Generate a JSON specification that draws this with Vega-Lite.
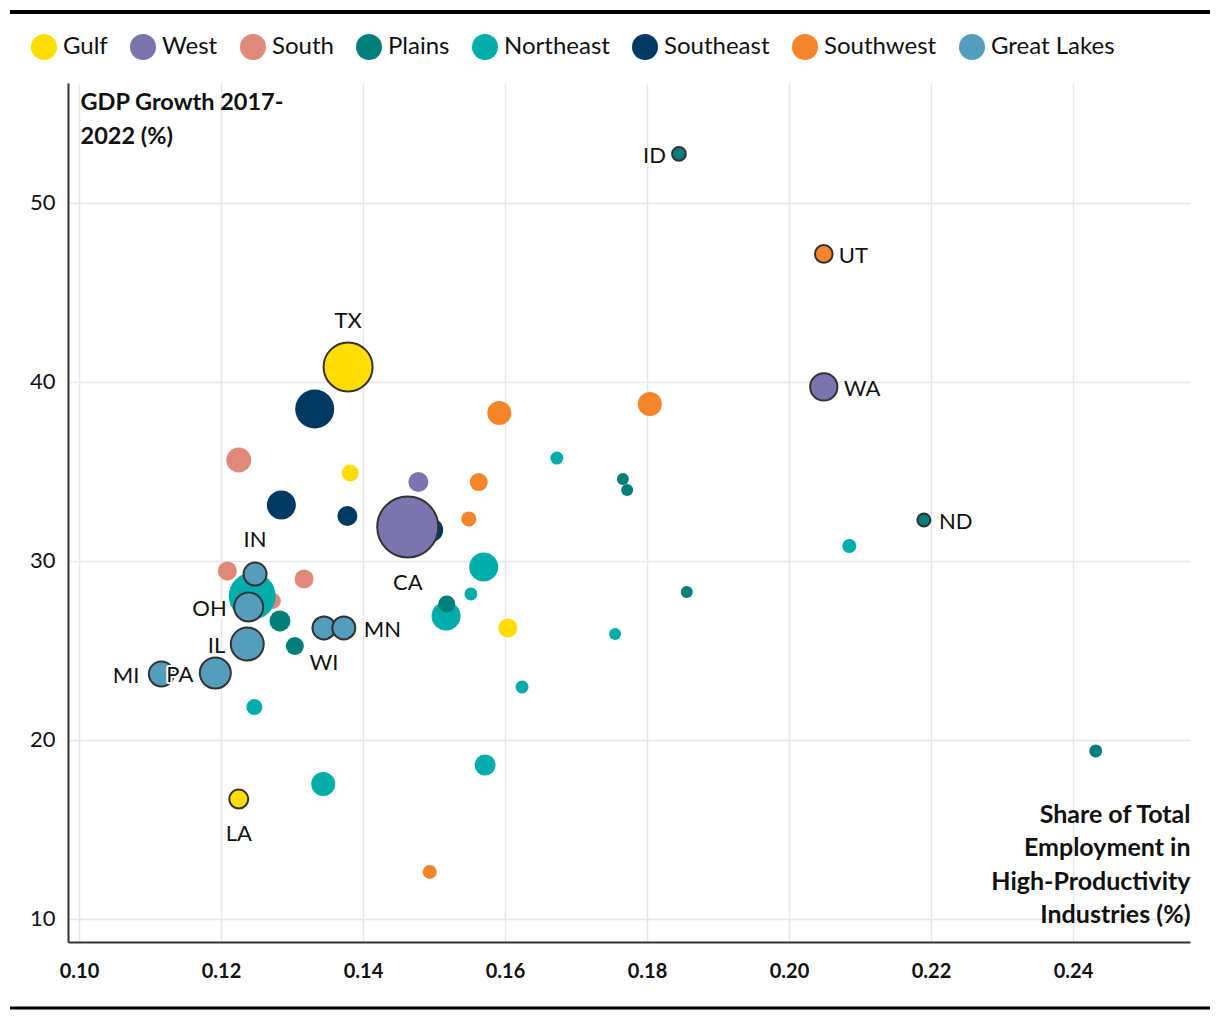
{
  "$schema": "https://vega.github.io/schema/vega-lite/v6.json",
  "width": 1122,
  "height": 859,
  "autosize": {"type": "none"},
  "padding": {"left": 68, "top": 83, "right": 30, "bottom": 78},
  "background": "white",
  "config": {
    "font": "Lato",
    "view": {"stroke": null},
    "text": {"font": "Lato", "fontSize": 22, "baseline": "middle", "color": "#111111"}
  },
  "datasets": {
    "frame": [{"edge": "top"}, {"edge": "bottom"}]
  },
  "data": {
    "values": [
      {"state": "TN", "region": "South", "share": 0.1225, "growth": 35.64, "gdp": 522, "hl": false},
      {"state": "KY", "region": "South", "share": 0.1209, "growth": 29.44, "gdp": 260, "hl": false},
      {"state": "MS", "region": "South", "share": 0.1317, "growth": 28.99, "gdp": 260, "hl": false},
      {"state": "AR", "region": "South", "share": 0.1273, "growth": 27.77, "gdp": 156, "hl": false},
      {"state": "NY", "region": "Northeast", "share": 0.1244, "growth": 28.04, "gdp": 2098, "hl": false},
      {"state": "MA", "region": "Northeast", "share": 0.1570, "growth": 29.66, "gdp": 737, "hl": false},
      {"state": "NJ", "region": "Northeast", "share": 0.1517, "growth": 26.93, "gdp": 737, "hl": false},
      {"state": "NH", "region": "Northeast", "share": 0.1552, "growth": 28.16, "gdp": 69, "hl": false},
      {"state": "VT", "region": "Northeast", "share": 0.1673, "growth": 35.75, "gdp": 69, "hl": false},
      {"state": "DE", "region": "Northeast", "share": 0.2085, "growth": 30.84, "gdp": 96, "hl": false},
      {"state": "RI", "region": "Northeast", "share": 0.1755, "growth": 25.92, "gdp": 44, "hl": false},
      {"state": "ME", "region": "Northeast", "share": 0.1624, "growth": 22.96, "gdp": 69, "hl": false},
      {"state": "WV", "region": "Northeast", "share": 0.1247, "growth": 21.84, "gdp": 156, "hl": false},
      {"state": "CT", "region": "Northeast", "share": 0.1572, "growth": 18.60, "gdp": 340, "hl": false},
      {"state": "MD", "region": "Northeast", "share": 0.1344, "growth": 17.54, "gdp": 474, "hl": false},
      {"state": "SD", "region": "Plains", "share": 0.1766, "growth": 34.58, "gdp": 44, "hl": false},
      {"state": "MT", "region": "Plains", "share": 0.1772, "growth": 33.97, "gdp": 44, "hl": false},
      {"state": "WY", "region": "Plains", "share": 0.1856, "growth": 28.27, "gdp": 44, "hl": false},
      {"state": "KS", "region": "Plains", "share": 0.1518, "growth": 27.60, "gdp": 188, "hl": false},
      {"state": "MO", "region": "Plains", "share": 0.1283, "growth": 26.65, "gdp": 340, "hl": false},
      {"state": "IA", "region": "Plains", "share": 0.1304, "growth": 25.25, "gdp": 223, "hl": false},
      {"state": "NE", "region": "Plains", "share": 0.2432, "growth": 19.39, "gdp": 69, "hl": false},
      {"state": "FL", "region": "Southeast", "share": 0.1332, "growth": 38.49, "gdp": 1414, "hl": false},
      {"state": "NC", "region": "Southeast", "share": 0.1285, "growth": 33.13, "gdp": 737, "hl": false},
      {"state": "SC", "region": "Southeast", "share": 0.1378, "growth": 32.51, "gdp": 299, "hl": false},
      {"state": "GA", "region": "Southeast", "share": 0.1496, "growth": 31.73, "gdp": 474, "hl": false},
      {"state": "OK", "region": "Gulf", "share": 0.1382, "growth": 34.92, "gdp": 188, "hl": false},
      {"state": "AL", "region": "Gulf", "share": 0.1604, "growth": 26.26, "gdp": 260, "hl": false},
      {"state": "OR", "region": "West", "share": 0.1478, "growth": 34.41, "gdp": 299, "hl": false},
      {"state": "AZ", "region": "Southwest", "share": 0.1592, "growth": 38.27, "gdp": 474, "hl": false},
      {"state": "CO", "region": "Southwest", "share": 0.1804, "growth": 38.77, "gdp": 474, "hl": false},
      {"state": "NV", "region": "Southwest", "share": 0.1563, "growth": 34.41, "gdp": 223, "hl": false},
      {"state": "NM", "region": "Southwest", "share": 0.1549, "growth": 32.35, "gdp": 125, "hl": false},
      {"state": "HI", "region": "Southwest", "share": 0.1494, "growth": 12.63, "gdp": 96, "hl": false},
      {"state": "ID", "region": "Plains", "share": 0.1845, "growth": 52.74, "gdp": 88, "hl": true},
      {"state": "UT", "region": "Southwest", "share": 0.2049, "growth": 47.15, "gdp": 212, "hl": true},
      {"state": "TX", "region": "Gulf", "share": 0.1379, "growth": 40.84, "gdp": 2289, "hl": true},
      {"state": "WA", "region": "West", "share": 0.2049, "growth": 39.72, "gdp": 642, "hl": true},
      {"state": "ND", "region": "Plains", "share": 0.2190, "growth": 32.29, "gdp": 69, "hl": true},
      {"state": "CA", "region": "West", "share": 0.1463, "growth": 31.90, "gdp": 3601, "hl": true},
      {"state": "IN", "region": "Great Lakes", "share": 0.1248, "growth": 29.27, "gdp": 427, "hl": true},
      {"state": "OH", "region": "Great Lakes", "share": 0.1239, "growth": 27.43, "gdp": 737, "hl": true},
      {"state": "WI", "region": "Great Lakes", "share": 0.1345, "growth": 26.26, "gdp": 427, "hl": true},
      {"state": "MN", "region": "Great Lakes", "share": 0.1373, "growth": 26.26, "gdp": 427, "hl": true},
      {"state": "IL", "region": "Great Lakes", "share": 0.1237, "growth": 25.36, "gdp": 984, "hl": true},
      {"state": "MI", "region": "Great Lakes", "share": 0.1116, "growth": 23.69, "gdp": 522, "hl": true},
      {"state": "PA", "region": "Great Lakes", "share": 0.1192, "growth": 23.74, "gdp": 857, "hl": true},
      {"state": "LA", "region": "Gulf", "share": 0.1225, "growth": 16.70, "gdp": 260, "hl": true}
    ]
  },
  "layer": [
    {
      "encoding": {
        "x": {
          "field": "share",
          "type": "quantitative",
          "scale": {"domain": [0.098451, 0.256479], "nice": false, "zero": false},
          "axis": {
            "title": ["Share of Total", "Employment in", "High-Productivity", "Industries (%)"],
            "values": [0.10, 0.12, 0.14, 0.16, 0.18, 0.20, 0.22, 0.24],
            "format": ".2f",
            "labelFont": "Lato",
            "labelFontSize": 20,
            "labelFontWeight": "bold",
            "labelColor": "#111111",
            "labelPadding": 19,
            "labelFlush": false,
            "ticks": false,
            "domainColor": "#333333",
            "domainWidth": 2,
            "gridColor": "#e6e6e6",
            "gridWidth": 1.5,
            "titleFont": "Lato",
            "titleFontSize": 25,
            "titleFontWeight": "bold",
            "titleColor": "#111111",
            "titleAlign": "right",
            "titleAnchor": null,
            "titleAngle": 0,
            "titleBaseline": "alphabetic",
            "titleX": 1122,
            "titleY": -120,
            "titleLineHeight": 33.5
          }
        },
        "y": {
          "field": "growth",
          "type": "quantitative",
          "scale": {"domain": [8.715, 56.70], "nice": false, "zero": false},
          "axis": {
            "title": ["GDP Growth 2017-", "2022 (%)"],
            "values": [10, 20, 30, 40, 50],
            "labelFont": "Lato",
            "labelFontSize": 22,
            "labelColor": "#111111",
            "labelPadding": 13,
            "ticks": false,
            "domainColor": "#333333",
            "domainWidth": 2,
            "gridColor": "#e6e6e6",
            "gridWidth": 1.5,
            "titleFont": "Lato",
            "titleFontSize": 23.5,
            "titleFontWeight": "bold",
            "titleColor": "#111111",
            "titleAlign": "left",
            "titleAnchor": null,
            "titleAngle": 0,
            "titleBaseline": "alphabetic",
            "titleX": 12,
            "titleY": 26,
            "titleLineHeight": 34
          }
        }
      },
      "layer": [
        {
          "mark": {"type": "circle", "opacity": 1, "stroke": "#333333"},
          "encoding": {
            "color": {
              "field": "region",
              "type": "nominal",
              "scale": {
                "domain": ["Gulf", "West", "South", "Plains", "Northeast", "Southeast", "Southwest", "Great Lakes"],
                "range": ["#FFDD00", "#7A75AE", "#E0897A", "#007F7A", "#00ADAB", "#003A62", "#F5852B", "#549DBC"]
              },
              "legend": {
                "orient": "none",
                "direction": "horizontal",
                "legendX": -37,
                "legendY": -49,
                "title": null,
                "symbolType": "circle",
                "symbolSize": 676,
                "symbolStrokeWidth": 0,
                "symbolOpacity": 1,
                "labelFont": "Lato",
                "labelFontSize": 24,
                "labelColor": "#111111",
                "labelOffset": 6,
                "columnPadding": 22
              }
            },
            "size": {
              "field": "gdp",
              "type": "quantitative",
              "scale": {"domain": [40, 3600], "range": [140, 3720], "zero": false},
              "legend": null
            },
            "strokeWidth": {"condition": {"test": "datum.hl", "value": 2}, "value": 0}
          }
        },
        {
          "transform": [{"filter": {"field": "state", "oneOf": ["TX"]}}],
          "encoding": {"text": {"field": "state"}},
          "layer": [
            {"mark": {"type": "text", "dy": -46, "stroke": "white", "strokeWidth": 4, "strokeJoin": "round"}},
            {"mark": {"type": "text", "dy": -46}}
          ]
        },
        {
          "transform": [{"filter": {"field": "state", "oneOf": ["IN"]}}],
          "encoding": {"text": {"field": "state"}},
          "layer": [
            {"mark": {"type": "text", "dy": -34, "stroke": "white", "strokeWidth": 4, "strokeJoin": "round"}},
            {"mark": {"type": "text", "dy": -34}}
          ]
        },
        {
          "transform": [{"filter": {"field": "state", "oneOf": ["CA"]}}],
          "encoding": {"text": {"field": "state"}},
          "layer": [
            {"mark": {"type": "text", "dy": 56, "stroke": "white", "strokeWidth": 4, "strokeJoin": "round"}},
            {"mark": {"type": "text", "dy": 56}}
          ]
        },
        {
          "transform": [{"filter": {"field": "state", "oneOf": ["LA", "WI"]}}],
          "encoding": {"text": {"field": "state"}},
          "layer": [
            {"mark": {"type": "text", "dy": 35, "stroke": "white", "strokeWidth": 4, "strokeJoin": "round"}},
            {"mark": {"type": "text", "dy": 35}}
          ]
        },
        {
          "transform": [{"filter": {"field": "state", "oneOf": ["OH", "IL", "MI", "PA"]}}],
          "encoding": {"text": {"field": "state"}},
          "layer": [
            {"mark": {"type": "text", "align": "right", "dx": -22, "dy": 2, "stroke": "white", "strokeWidth": 4, "strokeJoin": "round"}},
            {"mark": {"type": "text", "align": "right", "dx": -22, "dy": 2}}
          ]
        },
        {
          "transform": [{"filter": {"field": "state", "oneOf": ["ID"]}}],
          "encoding": {"text": {"field": "state"}},
          "layer": [
            {"mark": {"type": "text", "align": "right", "dx": -13, "dy": 2, "stroke": "white", "strokeWidth": 4, "strokeJoin": "round"}},
            {"mark": {"type": "text", "align": "right", "dx": -13, "dy": 2}}
          ]
        },
        {
          "transform": [{"filter": {"field": "state", "oneOf": ["UT", "ND"]}}],
          "encoding": {"text": {"field": "state"}},
          "layer": [
            {"mark": {"type": "text", "align": "left", "dx": 15, "dy": 2, "stroke": "white", "strokeWidth": 4, "strokeJoin": "round"}},
            {"mark": {"type": "text", "align": "left", "dx": 15, "dy": 2}}
          ]
        },
        {
          "transform": [{"filter": {"field": "state", "oneOf": ["WA", "MN"]}}],
          "encoding": {"text": {"field": "state"}},
          "layer": [
            {"mark": {"type": "text", "align": "left", "dx": 20, "dy": 2, "stroke": "white", "strokeWidth": 4, "strokeJoin": "round"}},
            {"mark": {"type": "text", "align": "left", "dx": 20, "dy": 2}}
          ]
        }
      ]
    },
    {
      "data": {"name": "frame"},
      "transform": [{"filter": "datum.edge === 'top'"}],
      "mark": {"type": "rule", "color": "#000000", "strokeWidth": 4, "clip": false},
      "encoding": {
        "x": {"datum": 0.09028, "type": "quantitative"},
        "x2": {"datum": 0.2593},
        "y": {"datum": 60.67, "type": "quantitative"}
      }
    },
    {
      "data": {"name": "frame"},
      "transform": [{"filter": "datum.edge === 'bottom'"}],
      "mark": {"type": "rule", "color": "#000000", "strokeWidth": 3, "clip": false},
      "encoding": {
        "x": {"datum": 0.09028, "type": "quantitative"},
        "x2": {"datum": 0.2593},
        "y": {"datum": 5.03, "type": "quantitative"}
      }
    }
  ]
}
